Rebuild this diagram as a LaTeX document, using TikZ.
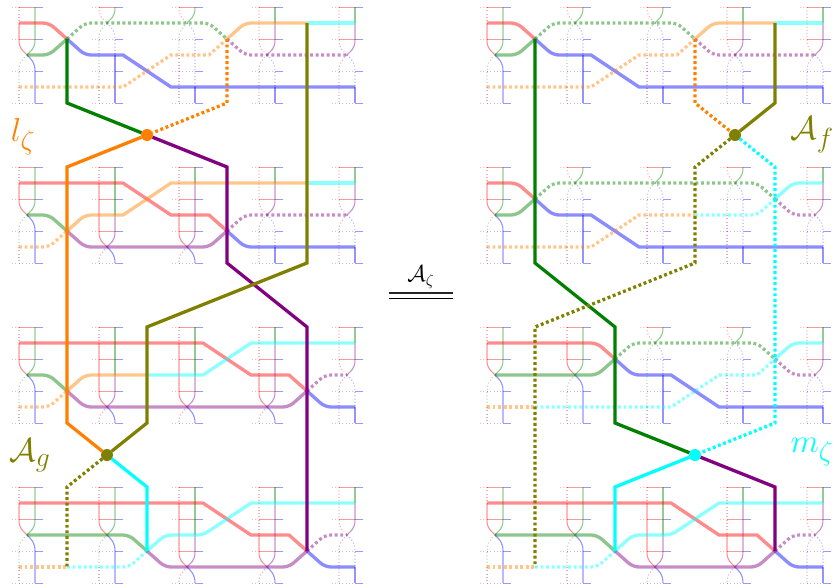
\documentclass[tikz,border=0pt]{standalone}
\usepackage{amsmath}

\definecolor{cgreen}{rgb}{0,0.5,0}
\definecolor{corange}{rgb}{1,0.5,0}
\definecolor{colive}{rgb}{0.5,0.5,0}
\definecolor{cpurple}{rgb}{0.5,0,0.5}
\definecolor{ccyan}{rgb}{0,1,1}

\tikzset{
  strand/.style={line width=0.85pt,opacity=.42},
  fine/.style={dash pattern=on 0.75pt off 1.7pt,opacity=.32},
  rs/.style={strand,red}, rd/.style={strand,red,fine},
  gs/.style={strand,cgreen}, gd/.style={strand,cgreen,fine},
  bs/.style={strand,blue}, bd/.style={strand,blue,fine},
  ps/.style={strand,cpurple}, pd/.style={strand,cpurple,fine},
  rail/.style={line width=0.5pt,opacity=.4},
  faint/.style={line width=0.5pt,fine,opacity=.28},
  wire/.style={line width=2.5pt,opacity=.45,rounded corners=4.5pt},
  wired/.style={wire,line width=2.4pt,dash pattern=on 2.2pt off 1.95pt},
  heavy/.style={line width=2.45pt,line join=miter},
  heavyd/.style={heavy,dash pattern=on 2.2pt off 1.95pt},
  dot/.style={circle,inner sep=0pt,outer sep=0pt,minimum size=9pt},
  tag/.style={font=\Huge,inner sep=0pt},
}

% one vertical of a tile, in runs style/from/to
\newcommand{\tileleg}[4]{%
  \foreach \s/\ya/\yb in {#3} {
    \ifnum\yb=#4
      \draw[\s] (#1,\ya) -- (#1,#4-16) .. controls (#1,#4-5) and (#2,#4-5) .. (8,#4);
    \else\ifnum\ya=#4
      \draw[\s] (8,#4) .. controls (#2,#4+4) and (#1,#4+7) .. (#1,#4+16) -- (#1,\yb);
    \else
      \draw[\s] (#1,\ya) -- (#1,\yb);
    \fi\fi
  }%
}

\newcommand{\tile}[4]{%
  \begin{scope}[shift={(#1)}]
    \foreach \r in {0,32,64,96} {
      \draw[faint,red] (-7,\r) -- (0,\r);
      \draw[rail,blue] (16,\r) -- (24,\r);
      \ifnum\r<#2
        \draw[rail,red] (0,\r) -- (16,\r);
      \else
        \draw[faint,blue] (0,\r) -- (16,\r);
      \fi
    }
    \tileleg{0}{4}{#3}{#2}
    \tileleg{16}{12}{#4}{#2}
  \end{scope}%
}

\newcommand{\tileA}[1]{\tile{#1}{48}{rd/0/16,rs/16/48,gd/48/80,pd/80/96}{gs/0/48,bs/48/96}}
\newcommand{\tileB}[1]{\tile{#1}{16}{rd/0/16,gd/16/80,pd/80/96}{gs/0/16,bd/16/48,bs/48/96}}
\newcommand{\tileC}[1]{\tile{#1}{16}{rd/0/16,gd/16/48,pd/48/96}{gs/0/16,bd/16/80,bs/80/96}}
\newcommand{\tileD}[1]{\tile{#1}{48}{rd/0/48,pd/48/96}{gs/0/16,ps/16/48,bd/48/80,bs/80/96}}
\newcommand{\tileE}[1]{\tile{#1}{80}{rd/0/16,rs/16/80,pd/80/96}{gs/0/48,ps/48/80,bs/80/96}}
\newcommand{\tileF}[1]{\tile{#1}{80}{rd/0/48,rs/48/80,pd/80/96}{gs/0/16,ps/16/80,bs/80/96}}

\begin{document}
\begin{tikzpicture}[x=0.75pt,y=-0.75pt]
\useasboundingbox (0,0) rectangle (833,586);

% Tiles
\foreach \dx/\dy/\kinds in {19/7/{A,B,C,D,D},19/167/{A,E,F,D,D},19/327/{A,E,E,F,D},19/487/{A,A,E,F,D},
                            487/7/{A,B,C,D,D},487/167/{A,B,C,C,D},487/327/{A,A,B,C,D},487/487/{A,A,E,F,D}} {
  \foreach \k [count=\i from 0] in \kinds {
    \pgfmathtruncatemacro{\tx}{\dx+80*\i}
    \csname tile\k\endcsname{\tx,\dy}
  }
}

% Wires of the first and last rows, both sides
\foreach \dx in {0,468} {
  \begin{scope}[shift={(\dx,0)}]
    \draw[wire,red] (19,23) -- (49,23) -- (67,39);
    \draw[wire,blue] (67,39) -- (85,55) [sharp corners] -- (123,55) -- (171,87) -- (355,87);
    \draw[wire,cgreen] (27,55) -- (49,55) -- (67,39);
    \draw[wired,cgreen] (67,39) -- (85,23) -- (209,23) -- (227,39);
    \draw[wired,cpurple] (227,39) -- (245,55) -- (347,55);
    \draw[wired,corange] (19,87) [sharp corners] -- (123,87) -- (171,55) -- (209,55) [rounded corners=4.5pt] -- (227,39);
    \draw[wire,corange] (227,39) -- (245,23) -- (307,23);
    \draw[wire,ccyan] (307,23) -- (355,23);

    \draw[wire,red] (19,503) [sharp corners] -- (203,503) -- (251,535) -- (289,535) [rounded corners=4.5pt] -- (307,551);
    \draw[wire,blue] (307,551) -- (325,567) -- (355,567);
    \draw[wire,cgreen] (27,535) -- (129,535) -- (147,551);
    \draw[wired,corange] (19,567) -- (67,567);
    \draw[wired,ccyan] (67,567) -- (129,567) -- (147,551);
    \draw[wire,ccyan] (147,551) -- (165,535) -- (203,535) [sharp corners] -- (251,503) -- (355,503);
    \draw[wire,cpurple] (147,551) -- (165,567) -- (289,567) -- (307,551);
    \draw[wired,cpurple] (307,551) -- (325,535) -- (347,535);
  \end{scope}
}

% Wires left, second row
\draw[wire,red] (19,183) [sharp corners] -- (123,183) -- (171,215) -- (209,215) [rounded corners=4.5pt] -- (227,231);
\draw[wire,blue] (227,231) -- (245,247) -- (355,247);
\draw[wire,corange] (67,231) -- (85,215) [sharp corners] -- (123,215) -- (171,183) -- (307,183);
\draw[wire,ccyan] (307,183) -- (355,183);
\draw[wired,corange] (19,247) -- (49,247) -- (67,231);
\draw[wire,cgreen] (27,215) -- (49,215) -- (67,231);
\draw[wire,cpurple] (67,231) -- (85,247) -- (209,247) -- (227,231);
\draw[wired,cpurple] (227,231) -- (245,215) -- (347,215);

% Wires left, third row
\draw[wire,red] (19,343) [sharp corners] -- (203,343) -- (251,375) -- (289,375) [rounded corners=4.5pt] -- (307,391);
\draw[wire,blue] (307,391) -- (325,407) -- (355,407);
\draw[wire,cgreen] (27,375) -- (49,375) -- (67,391);
\draw[wired,corange] (19,407) -- (49,407) -- (67,391);
\draw[wire,corange] (67,391) -- (85,375) -- (147,375);
\draw[wire,ccyan] (147,375) [sharp corners] -- (203,375) -- (251,343) -- (355,343);
\draw[wire,cpurple] (67,391) -- (85,407) -- (289,407) -- (307,391);
\draw[wired,cpurple] (307,391) -- (325,375) -- (347,375);

% Wires right, second row
\draw[wire,red] (487,183) -- (517,183) -- (535,199);
\draw[wire,blue] (535,199) -- (553,215) [sharp corners] -- (591,215) -- (639,247) -- (823,247);
\draw[wire,cgreen] (495,215) -- (517,215) -- (535,199);
\draw[wired,cgreen] (535,199) -- (553,183) -- (757,183) -- (775,199);
\draw[wired,cpurple] (775,199) -- (793,215) -- (815,215);
\draw[wired,corange] (487,247) [sharp corners] -- (591,247) -- (639,215) -- (695,215);
\draw[wired,ccyan] (695,215) -- (757,215) -- (775,199);
\draw[wire,ccyan] (775,199) -- (793,183) -- (823,183);

% Wires right, third row
\draw[wire,red] (487,343) -- (597,343) -- (615,359);
\draw[wire,blue] (615,359) -- (633,375) [sharp corners] -- (671,375) -- (719,407) -- (823,407);
\draw[wire,cgreen] (495,375) -- (597,375) -- (615,359);
\draw[wired,cgreen] (615,359) -- (633,343) -- (757,343) -- (775,359);
\draw[wired,cpurple] (775,359) -- (793,375) -- (815,375);
\draw[wired,corange] (487,407) -- (535,407);
\draw[wired,ccyan] (535,407) [sharp corners] -- (671,407) -- (719,375) -- (757,375) [rounded corners=4.5pt] -- (775,359);
\draw[wire,ccyan] (775,359) -- (793,343) -- (823,343);

% Dots
\node[dot,fill=corange] (lzeta) at (147,135) {};
\node[dot,fill=colive] (Ag) at (107,455) {};
\node[dot,fill=colive] (Af) at (735,135) {};
\node[dot,fill=ccyan] (mzeta) at (695,455) {};

% Ends of the heavy lines
\coordinate (la) at (67,39);
\coordinate (lb) at (227,39);
\coordinate (lc) at (307,23);
\coordinate (ld) at (147,551);
\coordinate (le) at (307,551);
\coordinate (lf) at (67,567);
\coordinate (ra) at (535,39);
\coordinate (rb) at (695,39);
\coordinate (rc) at (775,23);
\coordinate (rd) at (615,551);
\coordinate (re) at (775,551);
\coordinate (rf) at (535,567);

% Heavy lines left
\draw[heavy,cgreen] (la) -- (67,103) -- (lzeta);
\draw[heavyd,corange] (lb) -- (227,103) -- (lzeta);
\draw[heavy,corange] (lzeta) -- (67,167) -- (67,423) -- (Ag);
\draw[heavy,cpurple] (lzeta) -- (227,167) -- (227,263) -- (307,327) -- (le);
\draw[heavy,colive] (lc) -- (307,263) -- (147,327) -- (147,423) -- (Ag);
\draw[heavy,ccyan] (Ag) -- (147,487) -- (ld);
\draw[heavyd,colive] (Ag) -- (67,487) -- (lf);

% Heavy lines right
\draw[heavy,cgreen] (ra) -- (535,263) -- (615,327) -- (615,423) -- (mzeta);
\draw[heavy,colive] (rc) -- (775,103) -- (Af);
\draw[heavyd,corange] (rb) -- (695,103) -- (Af);
\draw[heavyd,colive] (Af) -- (695,167) -- (695,263) -- (535,327) -- (rf);
\draw[heavyd,ccyan] (Af) -- (775,167) -- (775,423) -- (mzeta);
\draw[heavy,ccyan] (mzeta) -- (615,487) -- (rd);
\draw[heavy,cpurple] (mzeta) -- (775,487) -- (re);

% Labels
\node[tag,text=corange] (llabel) at (23,137) {$l_\zeta$};
\node[tag,text=colive] (Aglabel) at (30,455) {$\mathcal{A}_g$};
\node[tag,text=colive] (Aflabel) at (812,135) {$\mathcal{A}_f$};
\node[tag,text=ccyan] (mlabel) at (812,452) {$m_\zeta$};

% Equal sign
\node[font=\LARGE,inner sep=0pt] (eqlabel) at (421,277) {$\mathcal{A}_\zeta$};
\coordinate (eqa) at (389,293);
\coordinate (eqb) at (453,293);
\coordinate (eqc) at (389,298);
\coordinate (eqd) at (453,298);
\draw[line width=0.8pt,black!85] (eqa) -- (eqb);
\draw[line width=0.6pt] (eqc) -- (eqd);

\end{tikzpicture}
\end{document}
